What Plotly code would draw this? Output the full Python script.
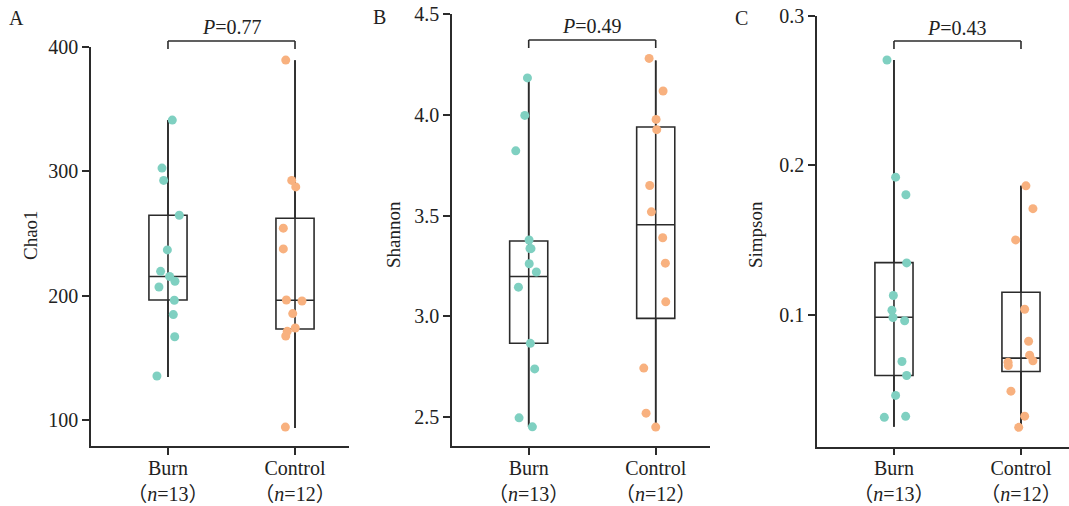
import plotly.graph_objects as go

W, H = 1069, 506
FONT = "Liberation Serif, Noto Sans CJK SC, serif"
TEAL = "#7fd0c1"
ORANGE = "#f8b17f"
LINE = "#2b2b2b"

groups = ["Burn", "Control"]
group_labels = ["Burn<br>（<i>n</i>=13）", "Control<br>（<i>n</i>=12）"]

# ---- Chao1 ----
chao_burn = [341.2, 302.6, 292.7, 264.7, 236.8, 219.6, 215.4, 211.6, 207.0, 196.3, 184.8, 167.0, 135.4]
chao_burn_jit = [0.034, -0.047, -0.034, 0.089, -0.005, -0.058, 0.013, 0.055, -0.071, 0.050, 0.042, 0.053, -0.087]
chao_ctrl = [389.5, 292.7, 287.5, 254.3, 237.6, 196.5, 195.7, 185.6, 174.0, 171.3, 167.6, 94.3]
chao_ctrl_jit = [-0.073, -0.026, 0.006, -0.092, -0.092, -0.068, 0.055, -0.018, 0.002, -0.061, -0.073, -0.076]
chao_stats = {  # min, q1, median, q3, max
    "Burn": [134.6, 196.5, 215.4, 264.7, 341.2],
    "Control": [93.5, 173.2, 196.3, 262.3, 389.3],
}

# ---- Shannon ----
shan_burn = [4.184, 3.998, 3.822, 3.379, 3.337, 3.336, 3.261, 3.220, 3.145, 2.866, 2.739, 2.496, 2.451]
shan_burn_jit = [-0.010, -0.031, -0.102, 0.003, 0.010, 0.018, 0.004, 0.060, -0.081, 0.013, 0.047, -0.076, 0.029]
shan_ctrl = [4.281, 4.119, 3.978, 3.927, 3.650, 3.519, 3.390, 3.264, 3.072, 2.743, 2.519, 2.450]
shan_ctrl_jit = [-0.052, 0.058, 0.003, 0.008, -0.047, -0.034, 0.055, 0.076, 0.079, -0.094, -0.076, 0.000]
shan_stats = {
    "Burn": [2.451, 2.866, 3.198, 3.374, 4.175],
    "Control": [2.451, 2.990, 3.455, 3.940, 4.271],
}

# ---- Simpson ----
simp_burn = [0.2704, 0.192, 0.1802, 0.1346, 0.1128, 0.103, 0.0981, 0.0959, 0.0687, 0.0593, 0.046, 0.032, 0.0313]
simp_burn_jit = [-0.055, 0.013, 0.094, 0.100, -0.005, -0.016, -0.008, 0.084, 0.063, 0.100, 0.013, 0.092, -0.076]
simp_ctrl = [0.1862, 0.1709, 0.150, 0.1036, 0.0822, 0.0729, 0.0691, 0.0682, 0.066, 0.0488, 0.0321, 0.0246]
simp_ctrl_jit = [0.039, 0.094, -0.042, 0.029, 0.060, 0.068, 0.094, -0.102, -0.100, -0.079, 0.029, -0.018]
simp_stats = {
    "Burn": [0.025, 0.0593, 0.0983, 0.1348, 0.2704],
    "Control": [0.0248, 0.062, 0.0709, 0.115, 0.1862],
}

p_values = ["0.77", "0.49", "0.43"]
panel_letters = ["A", "B", "C"]
y_titles = ["Chao1", "Shannon", "Simpson"]

panels = [
    (chao_burn, chao_burn_jit, chao_ctrl, chao_ctrl_jit, chao_stats),
    (shan_burn, shan_burn_jit, shan_ctrl, shan_ctrl_jit, shan_stats),
    (simp_burn, simp_burn_jit, simp_ctrl, simp_ctrl_jit, simp_stats),
]

fig = go.Figure()

for i, (b, bj, c, cj, st) in enumerate(panels):
    xa = "x" if i == 0 else f"x{i+1}"
    ya = "y" if i == 0 else f"y{i+1}"
    for gi, g in enumerate(groups):
        mn, q1, med, q3, mx = st[g]
        # full-range vertical line
        fig.add_trace(go.Scatter(x=[gi, gi], y=[mn, mx], mode="lines",
                                 line=dict(color=LINE, width=1.6),
                                 xaxis=xa, yaxis=ya, showlegend=False, hoverinfo="skip"))
        fig.add_trace(go.Box(x=[gi], q1=[q1], median=[med], q3=[q3],
                             lowerfence=[mn], upperfence=[mx], width=0.3,
                             whiskerwidth=0, fillcolor="rgba(0,0,0,0)",
                             line=dict(color=LINE, width=1.6),
                             boxpoints=False, xaxis=xa, yaxis=ya, showlegend=False))
    fig.add_trace(go.Scatter(x=[0 + j for j in bj], y=b, mode="markers",
                             marker=dict(color=TEAL, size=9),
                             xaxis=xa, yaxis=ya, showlegend=False))
    fig.add_trace(go.Scatter(x=[1 + j for j in cj], y=c, mode="markers",
                             marker=dict(color=ORANGE, size=9),
                             xaxis=xa, yaxis=ya, showlegend=False))

def px_x(p):
    return p / W

def px_y(p):
    return (H - p) / H

axis_common = dict(showline=True, linecolor=LINE, linewidth=1.6, ticks="outside",
                   tickcolor=LINE, tickwidth=1.6, ticklen=7, showgrid=False,
                   zeroline=False, automargin=False,
                   tickfont=dict(family=FONT, size=20, color="#222"))

x_domains = [[px_x(91), px_x(349)], [px_x(452), px_x(709.7)], [px_x(817), 1.0]]
x_ranges = [[-0.606, 1.425], [-0.604, 1.425], [-0.606, 1.378]]
y_domains = [[px_y(446), px_y(47)], [px_y(446), px_y(14.3)], [px_y(446.5), px_y(15.7)]]
y_ranges = [[79.1, 400], [2.356, 4.5], [0.0118, 0.3]]
y_ticks = [[100, 200, 300, 400], [2.5, 3.0, 3.5, 4.0, 4.5], [0.1, 0.2, 0.3]]
y_ticktext = [["100", "200", "300", "400"], ["2.5", "3.0", "3.5", "4.0", "4.5"], ["0.1", "0.2", "0.3"]]

layout = dict(width=W, height=H, margin=dict(l=0, r=0, t=0, b=0),
              paper_bgcolor="white", plot_bgcolor="white", showlegend=False,
              template="none",
              font=dict(family=FONT, color="#222"))
for i in range(3):
    sx = "" if i == 0 else str(i + 1)
    layout[f"xaxis{sx}"] = dict(axis_common, domain=x_domains[i], range=x_ranges[i],
                                tickvals=[0, 1], ticktext=group_labels,
                                ticklabelstandoff=-4,
                                anchor=f"y{sx}")
    layout[f"yaxis{sx}"] = dict(axis_common, domain=y_domains[i], range=y_ranges[i],
                                tickvals=y_ticks[i], ticktext=y_ticktext[i],
                                anchor=f"x{sx}")
fig.update_layout(**layout)

bracket_top = [41, 40, 41]
bracket_leg = [49, 48, 49]
p_y = [27, 26, 28]
letter_pos = [(16, 18), (379, 17), (741, 18)]
title_pos = [(30, 235), (393, 235), (755, 235)]

for i in range(3):
    sx = "" if i == 0 else str(i + 1)
    xr = f"x{sx}"
    fig.add_shape(type="line", x0=0, x1=1, y0=px_y(bracket_top[i]), y1=px_y(bracket_top[i]),
                  xref=xr, yref="paper", line=dict(color=LINE, width=1.6))
    fig.add_shape(type="line", x0=0, x1=0, y0=px_y(bracket_leg[i]), y1=px_y(bracket_top[i]),
                  xref=xr, yref="paper", line=dict(color=LINE, width=1.6))
    fig.add_shape(type="line", x0=1, x1=1, y0=px_y(bracket_leg[i]), y1=px_y(bracket_top[i]),
                  xref=xr, yref="paper", line=dict(color=LINE, width=1.6))
    fig.add_annotation(x=0.5, y=px_y(p_y[i]), xref=xr, yref="paper",
                       text=f"<i>P</i>={p_values[i]}", showarrow=False,
                       font=dict(family=FONT, size=20, color="#222"),
                       xanchor="center", yanchor="middle")
    lx, ly = letter_pos[i]
    fig.add_annotation(x=px_x(lx), y=px_y(ly), xref="paper", yref="paper",
                       text=panel_letters[i], showarrow=False,
                       font=dict(family=FONT, size=20, color="#222"),
                       xanchor="center", yanchor="middle")
    tx, ty = title_pos[i]
    fig.add_annotation(x=px_x(tx), y=px_y(ty), xref="paper", yref="paper",
                       text=y_titles[i], showarrow=False, textangle=-90,
                       font=dict(family=FONT, size=19, color="#222"),
                       xanchor="center", yanchor="middle")

fig.write_html("out.html", config={"displayModeBar": False},
               post_script="document.body.style.margin='0';document.body.style.padding='0';document.body.style.overflow='hidden';")
